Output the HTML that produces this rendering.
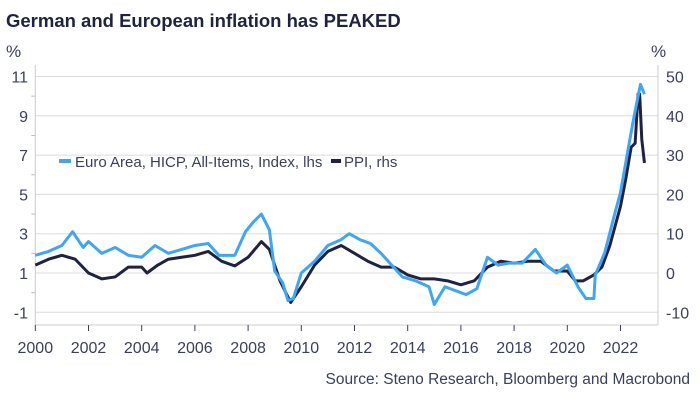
<!DOCTYPE html>
<html><head><meta charset="utf-8"><style>
body{margin:0;background:#fff;}
svg text{font-family:"Liberation Sans",sans-serif;}
</style></head><body>
<svg id="chart" width="700" height="400" viewBox="0 0 700 400">
<text x="6" y="27" font-size="18.5" font-weight="bold" fill="#1f2340">German and European inflation has PEAKED</text>
<text x="6" y="57" font-size="17" fill="#3a3f5c">%</text>
<text x="651" y="57" font-size="17" fill="#3a3f5c">%</text>
<g id="grid"></g><g id="axes"></g><g id="series"></g>
<g>
<line x1="59" y1="161" x2="71" y2="161" stroke="#3ea6f5" stroke-width="4"/>
<text x="75" y="167" font-size="15" fill="#3a3f5c">Euro Area, HICP, All-Items, Index, lhs</text>
<line x1="331" y1="161" x2="341" y2="161" stroke="#1f2340" stroke-width="4"/>
<text x="344" y="167" font-size="15" fill="#3a3f5c">PPI, rhs</text>
</g>
<text x="690" y="384" font-size="15.5" text-anchor="end" fill="#3a3f5c">Source: Steno Research, Bloomberg and Macrobond</text>
</svg>
<script>
const hicpX=[2000,2000.5,2001,2001.4,2001.8,2002,2002.5,2003,2003.5,2004,2004.5,2005,2005.5,2006,2006.5,2006.9,2007.5,2007.9,2008.2,2008.5,2008.8,2009,2009.3,2009.5,2009.7,2010,2010.5,2011,2011.5,2011.8,2012.2,2012.6,2013,2013.4,2013.8,2014.3,2014.8,2015,2015.4,2015.8,2016.2,2016.6,2017,2017.4,2017.8,2018.3,2018.8,2019.2,2019.6,2020,2020.4,2020.7,2021,2021.05,2021.4,2021.8,2022,2022.3,2022.5,2022.75,2022.9];
const hicpY=[1.9,2.1,2.4,3.1,2.3,2.6,2.0,2.3,1.9,1.8,2.4,2.0,2.2,2.4,2.5,1.9,1.9,3.1,3.6,4.0,3.2,1.1,0.5,-0.4,-0.3,1.0,1.6,2.4,2.7,3.0,2.7,2.5,2.0,1.4,0.8,0.6,0.3,-0.6,0.3,0.1,-0.1,0.2,1.8,1.4,1.5,1.5,2.2,1.4,1.0,1.4,0.3,-0.3,-0.3,0.9,2.0,4.1,5.1,7.4,8.9,10.6,10.1];
const ppiX=[2000,2000.5,2001,2001.5,2002,2002.5,2003,2003.5,2004,2004.2,2004.6,2005,2005.5,2006,2006.5,2007,2007.5,2008,2008.5,2008.8,2009.2,2009.6,2010,2010.5,2011,2011.5,2012,2012.5,2013,2013.5,2014,2014.5,2015,2015.5,2016,2016.5,2017,2017.5,2018,2018.5,2019,2019.5,2020,2020.3,2020.6,2021,2021.3,2021.6,2022,2022.2,2022.4,2022.55,2022.66,2022.72,2022.8,2022.9];
const ppiY=[2,3.5,4.5,3.5,0,-1.5,-1,1.5,1.5,0,2,3.5,4,4.5,5.5,3,1.8,4,8,6,-2,-7.5,-3.5,2,5.5,7,5,3,1.5,1.5,-0.5,-1.5,-1.5,-2,-3,-2,1.5,3,2.5,3,3,0.5,0.5,-2,-2,-0.5,1.5,7,17,24,32,33,45.5,45.5,34,28];
const yearTicks=[2000,2002,2004,2006,2008,2010,2012,2014,2016,2018,2020,2022];
const leftTicks=[-1,1,3,5,7,9,11];
const rightTicks=[-10,0,10,20,30,40,50];
const NS="http://www.w3.org/2000/svg";
const X0=35.3,X1=658,YT=65,YB=325;
const xs=y=>35.3+(y-2000)*26.6;
const yl=v=>273-(v-1)*19.65;
const yr=v=>273-v*3.93;
function mk(t,a,p){const e=document.createElementNS(NS,t);for(const k in a)e.setAttribute(k,a[k]);p.appendChild(e);return e;}
const grid=document.getElementById('grid'),axes=document.getElementById('axes'),ser=document.getElementById('series');
leftTicks.forEach((v,i)=>{
 const l=mk('line',{x1:X0,x2:X1,y1:yl(v),y2:yl(v),stroke:'#dcdcdc','stroke-width':1},grid);
 
 
 const t=mk('text',{x:28,y:yl(v)+6,'font-size':16,'text-anchor':'end',fill:'#3a3f5c'},axes);t.textContent=v;
 
 
 if(i<leftTicks.length-1){const m=mk('line',{x1:X0-4,x2:X0,y1:yl(v+1),y2:yl(v+1),stroke:'#bbb'},axes);
 
 }
});
rightTicks.forEach(v=>{
 const t=mk('text',{x:666,y:yr(v)+6,'font-size':16,fill:'#3a3f5c'},axes);t.textContent=v;
 
 
});
let a=mk('line',{x1:X0,x2:X0,y1:YT,y2:YB,stroke:'#ccc'},axes);


a=mk('line',{x1:X1,x2:X1,y1:YT,y2:YB,stroke:'#ccc'},axes);


a=mk('line',{x1:X0,x2:X1,y1:YB,y2:YB,stroke:'#ccc'},axes);


yearTicks.forEach(y=>{
 const k=mk('line',{x1:xs(y),x2:xs(y),y1:YB,y2:YB+6,stroke:'#3a3f5c'},axes);
 
 
 const t=mk('text',{x:xs(y),y:353,'font-size':16,'text-anchor':'middle',fill:'#3a3f5c'},axes);t.textContent=y;
 
 
});
const p1=mk('polyline',{points:ppiX.map((x,i)=>xs(x)+','+yr(ppiY[i])).join(' '),fill:'none',stroke:'#1f2340','stroke-width':3,'stroke-linejoin':'round'},ser);


const p2=mk('polyline',{points:hicpX.map((x,i)=>xs(x)+','+yl(hicpY[i])).join(' '),fill:'none',stroke:'#3ea6f5','stroke-width':3,'stroke-linejoin':'round'},ser);


</script>
</body></html>
